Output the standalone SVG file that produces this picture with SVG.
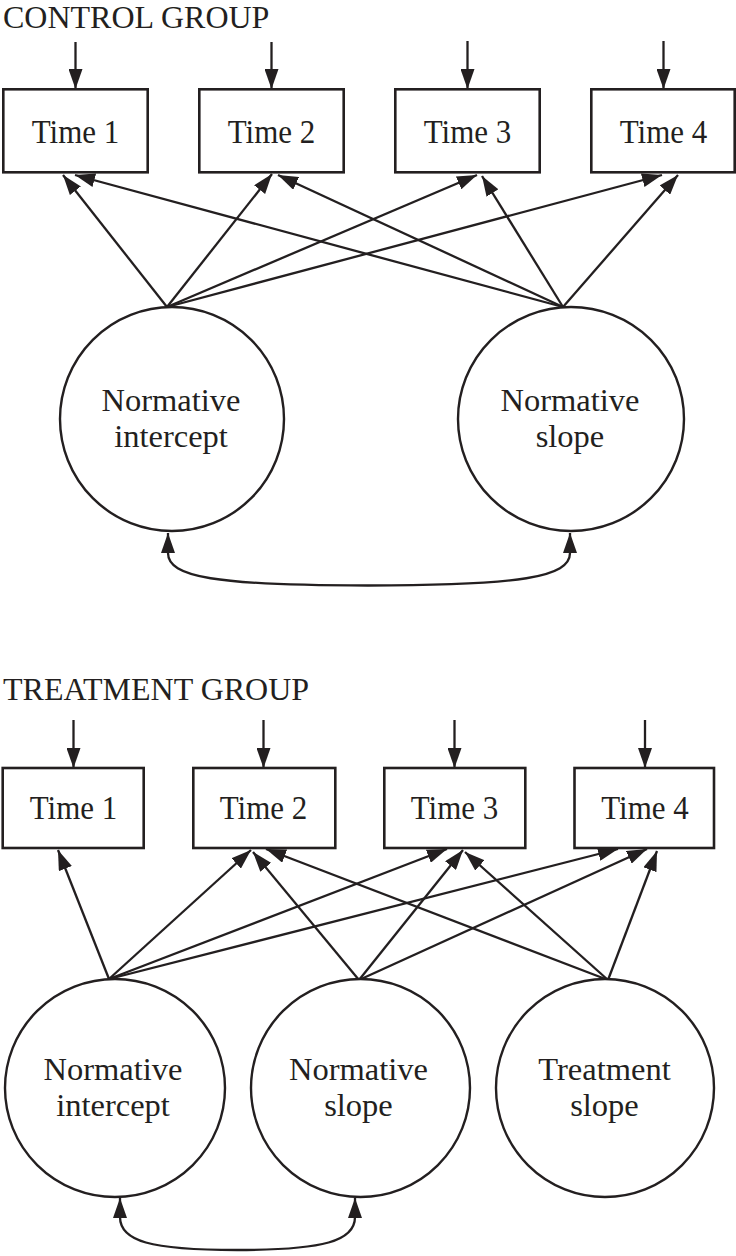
<svg xmlns="http://www.w3.org/2000/svg" width="736" height="1256" viewBox="0 0 736 1256">
<defs>
<marker id="ah" viewBox="0 0 20 14" refX="20" refY="7" markerWidth="20" markerHeight="14" markerUnits="userSpaceOnUse" orient="auto-start-reverse">
<path d="M0,0 L20,7 L0,14 z" fill="#231f20"/>
</marker>
<style>
.box{fill:#fff;stroke:#231f20;stroke-width:2.6}
.ell{fill:#fff;stroke:#231f20;stroke-width:2.4}
.t{font-family:"Liberation Serif","Times New Roman",serif;fill:#231f20;text-anchor:middle}
.bt{font-size:31px}
.et{font-size:32.5px}
.title{font-family:"Liberation Serif","Times New Roman",serif;fill:#231f20;font-size:32px}
.c{fill:none;stroke:#231f20;stroke-width:2.3;marker-end:url(#ah)}
.cc{fill:none;stroke:#231f20;stroke-width:2.3;marker-start:url(#ah);marker-end:url(#ah)}
</style>
</defs>
<rect width="736" height="1256" fill="#fff"/>

<text class="title" x="3" y="28">CONTROL GROUP</text>
<text class="title" x="3" y="700">TREATMENT GROUP</text>

<g id="connectors">
<line class="c" x1="75.5" y1="42" x2="75.5" y2="89"/>
<line class="c" x1="271.5" y1="42" x2="271.5" y2="89"/>
<line class="c" x1="467.5" y1="41" x2="467.5" y2="89"/>
<line class="c" x1="663.5" y1="41" x2="663.5" y2="89"/>
<line class="c" x1="167" y1="307" x2="63" y2="175"/>
<line class="c" x1="167" y1="307" x2="272" y2="174"/>
<line class="c" x1="167" y1="307" x2="477" y2="175"/>
<line class="c" x1="167" y1="307" x2="662" y2="175"/>
<line class="c" x1="563" y1="307" x2="75" y2="175"/>
<line class="c" x1="563" y1="307" x2="278" y2="175"/>
<line class="c" x1="563" y1="307" x2="482" y2="176"/>
<line class="c" x1="563" y1="307" x2="678" y2="175"/>
<path class="cc" d="M168,533 L168,553 C168,577 215,585.5 368,585.5 C521,585.5 570,577 570,553 L570,533"/>
<line class="c" x1="73.5" y1="720" x2="73.5" y2="768"/>
<line class="c" x1="263.5" y1="720" x2="263.5" y2="768"/>
<line class="c" x1="454.5" y1="720" x2="454.5" y2="768"/>
<line class="c" x1="645" y1="720" x2="645" y2="768"/>
<line class="c" x1="109" y1="979" x2="58" y2="850"/>
<line class="c" x1="109" y1="979" x2="251" y2="850"/>
<line class="c" x1="109" y1="979" x2="447" y2="849"/>
<line class="c" x1="109" y1="979" x2="618" y2="849"/>
<line class="c" x1="359" y1="980" x2="253" y2="852"/>
<line class="c" x1="359" y1="980" x2="463" y2="850"/>
<line class="c" x1="359" y1="980" x2="647" y2="849"/>
<line class="c" x1="608" y1="980" x2="266" y2="849"/>
<line class="c" x1="608" y1="980" x2="465" y2="852"/>
<line class="c" x1="608" y1="980" x2="657" y2="851"/>
<path class="cc" d="M120,1198 L120,1217 C120,1241 150,1250 237,1250 C324,1250 355,1241 355,1217 L355,1198"/>
</g>

<g id="c_time1"><rect class="box" x="3.3" y="89.3" width="144.4" height="83"/><text class="t bt" transform="translate(75.5,143) scale(1,1.1)">Time 1</text></g>
<g id="c_time2"><rect class="box" x="199.3" y="89.3" width="144.4" height="83"/><text class="t bt" transform="translate(271.5,143) scale(1,1.1)">Time 2</text></g>
<g id="c_time3"><rect class="box" x="395.3" y="89.3" width="144.4" height="83"/><text class="t bt" transform="translate(467.5,143) scale(1,1.1)">Time 3</text></g>
<g id="c_time4"><rect class="box" x="591.3" y="89.3" width="143.4" height="83"/><text class="t bt" transform="translate(663.5,143) scale(1,1.1)">Time 4</text></g>

<g id="c_intercept"><ellipse class="ell" cx="172" cy="419" rx="112" ry="112"/><text class="t et" x="171" y="411">Normative</text><text class="t et" x="171" y="447">intercept</text></g>
<g id="c_slope"><ellipse class="ell" cx="571" cy="419" rx="113" ry="112"/><text class="t et" x="570" y="411">Normative</text><text class="t et" x="570" y="447">slope</text></g>

<g id="t_time1"><rect class="box" x="2.7" y="768" width="141" height="80"/><text class="t bt" transform="translate(73.5,819) scale(1,1.1)">Time 1</text></g>
<g id="t_time2"><rect class="box" x="193.3" y="768" width="142" height="80"/><text class="t bt" transform="translate(263.5,819) scale(1,1.1)">Time 2</text></g>
<g id="t_time3"><rect class="box" x="384.3" y="768" width="141" height="80"/><text class="t bt" transform="translate(454.5,819) scale(1,1.1)">Time 3</text></g>
<g id="t_time4"><rect class="box" x="574.5" y="768" width="139.5" height="80"/><text class="t bt" transform="translate(645,819) scale(1,1.1)">Time 4</text></g>

<g id="t_intercept"><ellipse class="ell" cx="115" cy="1088" rx="110" ry="109"/><text class="t et" x="113" y="1080">Normative</text><text class="t et" x="113" y="1116">intercept</text></g>
<g id="t_nslope"><ellipse class="ell" cx="360.5" cy="1088" rx="109.5" ry="109"/><text class="t et" x="358.5" y="1080">Normative</text><text class="t et" x="358.5" y="1116">slope</text></g>
<g id="t_tslope"><ellipse class="ell" cx="605" cy="1088" rx="109" ry="109"/><text class="t et" x="604.5" y="1080">Treatment</text><text class="t et" x="604.5" y="1116">slope</text></g>
</svg>
